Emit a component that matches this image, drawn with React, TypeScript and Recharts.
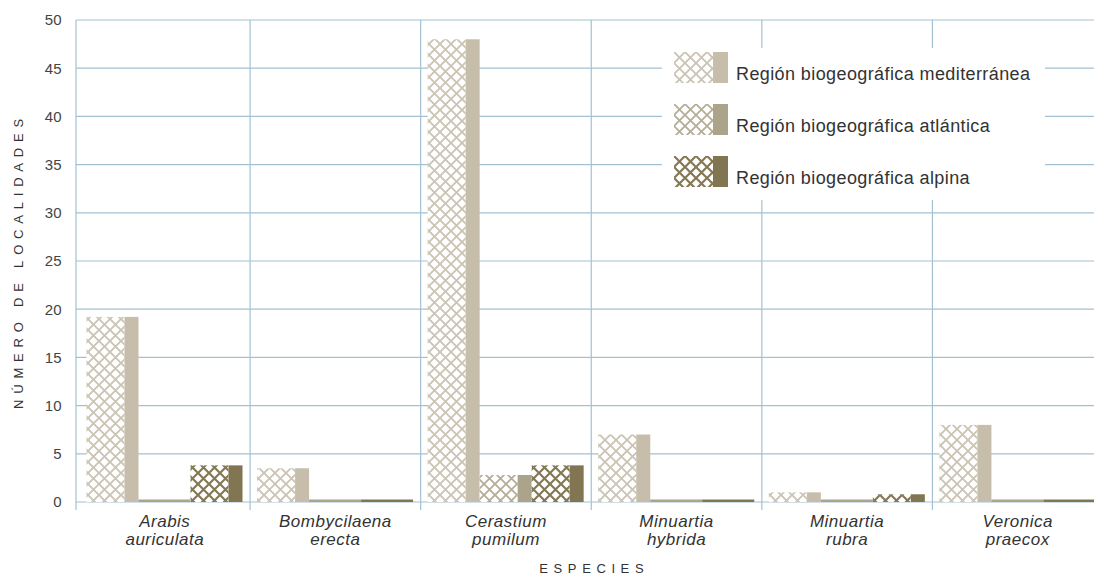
import * as React from "react";
import { Bar, BarChart, CartesianGrid, Label, Legend, XAxis, YAxis } from "recharts";

const species = [
  "Arabis auriculata",
  "Bombycilaena erecta",
  "Cerastium pumilum",
  "Minuartia hybrida",
  "Minuartia rubra",
  "Veronica praecox",
];
const mediterranea = [19.2, 3.5, 48, 7, 1, 8];
const atlantica = [0, 0, 2.8, 0, 0, 0];
const alpina = [3.8, 0, 3.8, 0, 0.8, 0];
const yTicks = [0, 5, 10, 15, 20, 25, 30, 35, 40, 45, 50];

const seriesNames = [
  "Región biogeográfica mediterránea",
  "Región biogeográfica atlántica",
  "Región biogeográfica alpina",
];

const data = species.map((name, i) => ({
  name,
  med: mediterranea[i],
  atl: atlantica[i],
  alp: alpina[i],
}));

const FONT = "'Liberation Sans', Arial, sans-serif";
const GRID = "#a3c1d2";
// the y axis line sits a little left of the first category band
const AXIS_SHIFT = 3.5;

const series = [
  { key: "med", solid: "#c6bdab", hatch: "#cbc3b3", sw: 1.8 },
  { key: "atl", solid: "#aca38b", hatch: "#b5ad97", sw: 1.8 },
  { key: "alp", solid: "#827652", hatch: "#857955", sw: 2.2 },
];

const HATCH_FRAC = 0.74;

function Hatch({ id, color, sw }: { id: string; color: string; sw: number }) {
  return (
    <pattern id={id} patternUnits="userSpaceOnUse" width={11} height={11}>
      <rect width={11} height={11} fill="#fff" />
      <path d="M-2,-2 L13,13 M13,-2 L-2,13" stroke={color} strokeWidth={sw} />
    </pattern>
  );
}

function makeShape(idx: number) {
  const s = series[idx];
  return (props: any) => {
    const { x, y, width, height } = props;
    if (!height || height < 2.5) {
      const base = y + (height || 0);
      return <rect x={x} y={base - 2.5} width={width} height={2.5} fill={s.solid} />;
    }
    const hw = Math.round(width * HATCH_FRAC);
    return (
      <g>
        <rect x={x} y={y} width={hw} height={height} fill={`url(#pat-${s.key})`} />
        <rect x={x + hw} y={y} width={width - hw} height={height} fill={s.solid} />
      </g>
    );
  };
}

function SpeciesTick(props: any) {
  const { x, y, payload, index, width, visibleTicksCount } = props;
  const band = width / visibleTicksCount;
  const parts = String(payload.value).split(" ");
  const left = x - band / 2 - (index === 0 ? AXIS_SHIFT : 0);
  return (
    <g>
      <line x1={left} x2={left} y1={y} y2={y + 8} stroke={GRID} strokeWidth={1.2} />
      {index === visibleTicksCount - 1 && (
        <line x1={x + band / 2} x2={x + band / 2} y1={y} y2={y + 8} stroke={GRID} strokeWidth={1.2} />
      )}
      <text x={x} y={y + 25} textAnchor="middle" fontStyle="italic" fontSize={17} letterSpacing={0.5} fill="#333" fontFamily={FONT}>
        {parts[0]}
      </text>
      <text x={x} y={y + 43} textAnchor="middle" fontStyle="italic" fontSize={17} letterSpacing={0.5} fill="#333" fontFamily={FONT}>
        {parts[1]}
      </text>
    </g>
  );
}

function LegendBox() {
  return (
    <div style={{ background: "#fff", width: 383, height: 152, position: "relative", fontFamily: FONT }}>
      {series.map((s, i) => (
        <div key={s.key} style={{ position: "absolute", left: 12, top: 4 + i * 52, height: 31, display: "flex", alignItems: "center" }}>
          <svg width={54} height={31} style={{ display: "block" }}>
            <defs>
              <Hatch id={`lg-${s.key}`} color={s.hatch} sw={s.sw} />
            </defs>
            <rect x={0} y={0} width={39} height={31} fill={`url(#lg-${s.key})`} />
            <rect x={39} y={0} width={15} height={31} fill={s.solid} />
          </svg>
          <span style={{ marginLeft: 8, marginTop: 14, fontSize: 18, letterSpacing: 0.4, color: "#333", whiteSpace: "nowrap" }}>
            {seriesNames[i]}
          </span>
        </div>
      ))}
    </div>
  );
}

export default function App() {
  return (
    <div style={{ position: "absolute", left: 0, top: 0, width: 1094, height: 576, overflow: "hidden", background: "#fff" }}>
      <BarChart
        width={1103}
        height={576}
        data={data}
        margin={{ top: 20, right: 0, left: 0, bottom: 0 }}
        barCategoryGap={7}
        barGap={0}
      >
        <defs>
          {series.map((s) => (
            <Hatch key={s.key} id={`pat-${s.key}`} color={s.hatch} sw={s.sw} />
          ))}
        </defs>
        <CartesianGrid
          stroke={GRID}
          strokeWidth={1.2}
          x={79.5 - AXIS_SHIFT}
          width={1103 - 79.5 + AXIS_SHIFT}
          verticalCoordinatesGenerator={({ offset }: any) =>
            species
              .map((_, i) => offset.left + (i * offset.width) / species.length - (i === 0 ? AXIS_SHIFT : 0))
              .concat(offset.left + offset.width)
          }
        />
        <XAxis
          dataKey="name"
          height={74}
          axisLine={false}
          tickLine={false}
          tickSize={0}
          tickMargin={0}
          interval={0}
          tick={<SpeciesTick />}
        >
          <Label
            content={({ viewBox }: any) => (
              <text
                x={viewBox.x + viewBox.width / 2 + 3}
                y={viewBox.y + 71}
                textAnchor="middle"
                fontSize={13}
                letterSpacing={5.6}
                fill="#333"
                fontFamily={FONT}
              >
                ESPECIES
              </text>
            )}
          />
        </XAxis>
        <YAxis
          width={79.5}
          domain={[0, 50]}
          ticks={yTicks}
          axisLine={false}
          tickLine={false}
          tickMargin={12}
          tick={{ fontSize: 15, fill: "#444", fontFamily: FONT }}
        >
          <Label
            content={({ viewBox }: any) => {
              const cy = viewBox.y + viewBox.height / 2;
              return (
                <text
                  x={18}
                  y={cy}
                  textAnchor="middle"
                  fontSize={13}
                  letterSpacing={5.8}
                  fill="#333"
                  fontFamily={FONT}
                  transform={`rotate(-90 18 ${cy})`}
                  dominantBaseline="central"
                >
                  NÚMERO DE LOCALIDADES
                </text>
              );
            }}
          />
        </YAxis>
        <Legend
          layout="vertical"
          align="center"
          verticalAlign="middle"
          wrapperStyle={{ left: 662, top: 48, width: 383, height: 152 }}
          content={() => <LegendBox />}
        />
        {series.map((s, i) => (
          <Bar key={s.key} dataKey={s.key} name={seriesNames[i]} shape={makeShape(i)} isAnimationActive={false} />
        ))}
      </BarChart>
    </div>
  );
}
